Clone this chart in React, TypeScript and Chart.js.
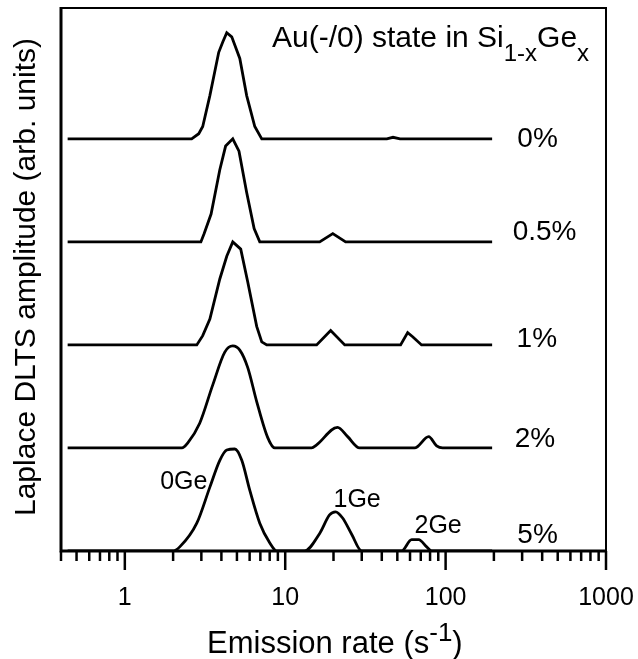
import React, { useEffect, useRef } from "react";
import { Chart, registerables } from "chart.js";

Chart.register(...registerables);

// ---- data (emission rate in s^-1, amplitude in arb. units) ----
const seriesLabels = ["0%", "0.5%", "1%", "2%", "5%"];
const seriesOffsets = [4, 3, 2, 1, 0];

const x0 = [0.44, 2.61, 2.89, 3.06, 3.39, 3.85, 4.08, 4.32, 4.64, 5.21, 5.75, 6.46, 7.14, 43, 47, 52, 195];
const a0 = [0, 0, 0.05, 0.12, 0.42, 0.84, 0.94, 1.03, 0.99, 0.78, 0.42, 0.12, 0, 0, 0.015, 0, 0];

const x05 = [0.44, 2.98, 3.12, 3.45, 3.91, 4.25, 4.71, 5.15, 5.75, 6.4, 6.94, 16.4, 19.8, 23.8, 195];
const a05 = [0, 0, 0.08, 0.27, 0.7, 0.93, 1.0, 0.88, 0.48, 0.13, 0, 0, 0.08, 0, 0];

const x1 = [0.44, 2.81, 3.06, 3.39, 3.91, 4.32, 4.71, 5.28, 5.84, 6.64, 7.14, 7.67, 15.7, 19.2, 23.5, 52.4, 58.0, 62.3, 70.8, 195];
const a1 = [0, 0, 0.09, 0.25, 0.64, 0.86, 1.0, 0.93, 0.61, 0.18, 0.03, 0, 0, 0.14, 0, 0, 0.12, 0.08, 0, 0];

const x2 = [0.44, 2.27, 2.47, 2.93, 3.53, 4.2, 4.71, 5.21, 5.84, 6.64, 7.78, 8.6, 14.6, 15.7, 21.2, 24.5, 29.1, 64.1, 78.4, 87.9, 95.8, 195];
const a2 = [0, 0, 0.05, 0.24, 0.61, 0.93, 0.99, 0.95, 0.78, 0.45, 0.1, 0, 0, 0.03, 0.2, 0.11, 0, 0, 0.11, 0.02, 0, 0];

const x5 = [0.44, 1.99, 2.2, 2.81, 3.39, 3.91, 4.32, 4.85, 5.36, 6.01, 6.94, 8.0, 8.85, 13.2, 16.4, 18.9, 20.6, 22.8, 26.0, 30.0, 53.2, 61.4, 67.9, 76.2, 81.8, 195];
const a5 = [0, 0, 0.04, 0.27, 0.62, 0.88, 0.98, 0.99, 0.88, 0.59, 0.27, 0.08, 0, 0, 0.17, 0.35, 0.38, 0.32, 0.16, 0, 0, 0.11, 0.11, 0.04, 0, 0];

const seriesX = [x0, x05, x1, x2, x5];
const seriesA = [a0, a05, a1, a2, a5];
const seriesSmooth = [false, false, false, true, true];

// label anchors (data coordinates)
const seriesLabelX = [280, 262, 277, 270, 280];
const seriesLabelY = [3.92, 3.02, 1.98, 1.01, 0.08];

const peakLabels = ["0Ge", "1Ge", "2Ge"];
const peakLabelX = [1.66, 20.0, 64.0];
const peakLabelY = [0.6, 0.43, 0.175];

// axis ticks
const majorTicks = [1, 10, 100, 1000];
const majorTickLabels = ["1", "10", "100", "1000"];
const minorTicks = [0.4, 0.5, 0.6, 0.7, 0.8, 0.9, 2, 3, 4, 5, 6, 7, 8, 9, 20, 30, 40, 50, 60, 70, 80, 90, 200, 300, 400, 500, 600, 700, 800, 900];

const xMin = 0.4;
const xMax = 1000;
const yMin = 0;
const yMax = 5.27;

const FONT = "'Liberation Sans', Arial, Helvetica, sans-serif";

const decorPlugin = {
  id: "decor",
  afterDraw(chart: any) {
    const ctx = chart.ctx;
    const { left, right, top, bottom } = chart.chartArea;
    const xs = chart.scales.x;
    const ys = chart.scales.y;
    ctx.save();
    ctx.strokeStyle = "#000";
    ctx.fillStyle = "#000";
    ctx.lineCap = "butt";
    // frame
    ctx.lineWidth = 2;
    ctx.beginPath();
    ctx.moveTo(left, top);
    ctx.lineTo(right, top);
    ctx.lineTo(right, bottom);
    ctx.stroke();
    ctx.lineWidth = 3;
    ctx.beginPath();
    ctx.moveTo(left, top - 1);
    ctx.lineTo(left, bottom);
    ctx.lineTo(right + 1, bottom);
    ctx.stroke();
    // ticks
    ctx.lineWidth = 2.5;
    majorTicks.forEach((v) => {
      const px = xs.getPixelForValue(v);
      ctx.beginPath();
      ctx.moveTo(px, bottom);
      ctx.lineTo(px, bottom + 19);
      ctx.stroke();
    });
    minorTicks.forEach((v) => {
      const px = xs.getPixelForValue(v);
      ctx.beginPath();
      ctx.moveTo(px, bottom);
      ctx.lineTo(px, bottom + 10);
      ctx.stroke();
    });

    // series labels
    ctx.textBaseline = "alphabetic";
    ctx.textAlign = "left";
    ctx.font = `28px ${FONT}`;
    seriesLabels.forEach((t, i) => {
      ctx.fillText(t, xs.getPixelForValue(seriesLabelX[i]), ys.getPixelForValue(seriesLabelY[i]));
    });
    ctx.font = `25px ${FONT}`;
    peakLabels.forEach((t, i) => {
      ctx.fillText(t, xs.getPixelForValue(peakLabelX[i]), ys.getPixelForValue(peakLabelY[i]));
    });

    // rich text with sub/superscripts
    const drawRich = (parts: { t: string; size: number; dy: number }[], x: number, y: number) => {
      let cx = x;
      parts.forEach((p) => {
        ctx.font = `${p.size}px ${FONT}`;
        ctx.fillText(p.t, cx, y + p.dy);
        cx += ctx.measureText(p.t).width;
      });
    };
    drawRich(
      [
        { t: "Au(-/0) state in Si", size: 30, dy: 0 },
        { t: "1-x", size: 24, dy: 14 },
        { t: "Ge", size: 30, dy: 0 },
        { t: "x", size: 24, dy: 14 },
      ],
      272,
      47
    );
    drawRich(
      [
        { t: "Emission rate (s", size: 31, dy: 0 },
        { t: "-1", size: 26, dy: -12 },
        { t: ")", size: 31, dy: 0 },
      ],
      207,
      653
    );
    ctx.save();
    ctx.translate(35, 277);
    ctx.rotate(-Math.PI / 2);
    ctx.textAlign = "center";
    ctx.font = `30px ${FONT}`;
    ctx.fillText("Laplace DLTS amplitude (arb. units)", 0, 0);
    ctx.restore();
    ctx.restore();
  },
};

export default function App() {
  const ref = useRef<HTMLCanvasElement | null>(null);
  useEffect(() => {
    if (!ref.current) return;
    const datasets = seriesLabels.map((lab, i) => ({
      label: lab,
      data: seriesX[i].map((x, j) => ({ x, y: seriesA[i][j] + seriesOffsets[i] })),
      borderColor: "#000",
      borderWidth: 2.8,
      pointRadius: 0,
      fill: false,
      tension: 0,
      cubicInterpolationMode: seriesSmooth[i] ? "monotone" : "default",
    }));
    const chart = new Chart(ref.current, {
      type: "line",
      data: { datasets } as any,
      plugins: [decorPlugin],
      options: {
        animation: false,
        responsive: false,
        devicePixelRatio: 1,
        layout: { padding: { left: 0, right: 32, top: 8, bottom: 0 } },
        plugins: { legend: { display: false }, tooltip: { enabled: false } },
        scales: {
          x: {
            type: "logarithmic",
            min: xMin,
            max: xMax,
            position: "bottom",
            grid: { display: false },
            border: { display: false },
            afterBuildTicks: (s: any) => {
              s.ticks = majorTicks.map((v) => ({ value: v }));
            },
            afterFit: (s: any) => {
              s.height = 108;
              s.paddingLeft = 0;
              s.paddingRight = 0;
            },
            ticks: {
              autoSkip: false,
              maxRotation: 0,
              padding: 24,
              color: "#000",
              font: { family: FONT, size: 25 },
              callback: (v: any) => {
                const k = majorTicks.indexOf(Number(v));
                return k >= 0 ? majorTickLabels[k] : "";
              },
            },
          },
          y: {
            type: "linear",
            min: yMin,
            max: yMax,
            grid: { display: false },
            border: { display: false },
            ticks: { display: false },
            afterFit: (s: any) => {
              s.width = 61;
              s.paddingTop = 0;
              s.paddingBottom = 0;
            },
          },
        },
      } as any,
    });
    return () => chart.destroy();
  }, []);
  return (
    <div style={{ position: "fixed", left: 0, top: 0, width: 638, height: 659, background: "#fff" }}>
      <canvas ref={ref} width={638} height={659} style={{ width: 638, height: 659, display: "block" }} />
    </div>
  );
}
